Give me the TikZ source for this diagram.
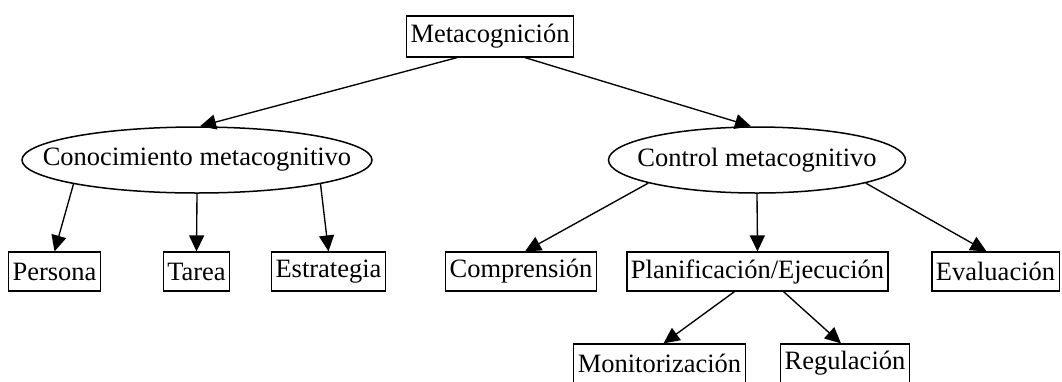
\documentclass[tikz,border=0pt]{standalone}
\usepackage{fontspec}
\setmainfont{Liberation Serif}
\usetikzlibrary{shapes.geometric, arrows.meta}
\tikzset{->, >={Triangle[length=16pt, width=15pt]},
  every node/.style={font=\fontsize{26.5pt}{30pt}\selectfont},
  caja/.style={rectangle, draw, line width=1.2pt, minimum height=39pt, inner xsep=4pt, inner ysep=0pt},
  elipse/.style={ellipse, draw, line width=1.5pt, inner xsep=-40pt, inner ysep=0pt, minimum height=66pt}}

\begin{document}
\begin{tikzpicture}[x=1pt, y=-1pt, line width=1.35pt]
        \useasboundingbox (0,0) rectangle (1062,381);
        \node[caja, minimum height=41pt] (metacognicion) at (490,36.5) {Metacognición};
        \node[elipse, minimum width=350pt] (conocimiento) at (197,160) {Conocimiento metacognitivo};
        \node[elipse, minimum width=297pt] (control) at (757,160) {Control metacognitivo};
        \node[caja] (persona) at (54.5,271.5) {Persona};
        \node[caja] (tarea) at (196.5,271.5) {Tarea};
        \node[caja] (estrategia) at (328.5,271.5) {Estrategia};
        \node[caja] (comprension) at (521,271.5) {Comprensión};
        \node[caja] (planificacion) at (757.5,271.5) {Planificación/Ejecución};
        \node[caja] (evaluacion) at (995.5,271.5) {Evaluación};
        \node[caja] (monitorizacion) at (659.5,363.5) {Monitorización};
        \node[caja] (regulacion) at (845,363.5) {Regulación};
        \path ([xshift=-33pt]metacognicion.south) edge ([xshift=3pt]conocimiento.north)
            ([xshift=35pt]metacognicion.south) edge ([xshift=-6pt]control.north)
            (conocimiento.191) edge (persona.north)
            (conocimiento.south) edge (tarea.north)
            (conocimiento.349) edge (estrategia.north)
            (control.192) edge ([xshift=4pt]comprension.north)
            (control.south) edge (planificacion.north)
            (control.348) edge ([xshift=-9pt]evaluacion.north)
            ([xshift=-23pt]planificacion.south) edge ([xshift=4pt]monitorizacion.north)
            ([xshift=26pt]planificacion.south) edge ([xshift=-4pt]regulacion.north);
    \end{tikzpicture}
\end{document}
